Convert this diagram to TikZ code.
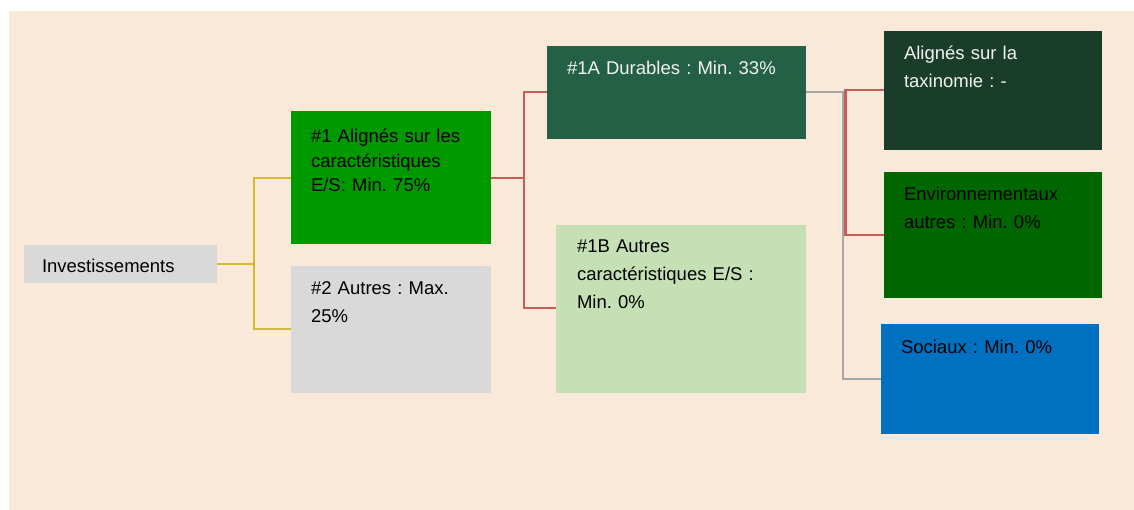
\documentclass[tikz,border=0pt]{standalone}
\usepackage{fontspec}
\setmainfont{Liberation Sans}
\frenchspacing
\definecolor{peach}{HTML}{FAE8D8}
\definecolor{boxgray}{HTML}{D9D9D9}
\definecolor{greenA}{HTML}{009900}
\definecolor{greenDurable}{HTML}{236045}
\definecolor{greenLight}{HTML}{C5E0B4}
\definecolor{greenTaxo}{HTML}{1A3D29}
\definecolor{greenEnv}{HTML}{006600}
\definecolor{blueSoc}{HTML}{0070C0}
\definecolor{lineYellow}{HTML}{D2BB2C}
\definecolor{lineRed}{HTML}{C85A5A}
\definecolor{lineGray}{HTML}{A6A6A6}
\definecolor{textLight}{HTML}{F2F2F2}
\tikzset{
  boxrect/.style={draw=none, inner sep=0pt, outer sep=0pt, anchor=north west},
  boxtext/.style={inner sep=0pt, outer sep=0pt, anchor=base west, text width=200pt, align=left,
    font=\fontsize{18.5}{28}\selectfont\frenchspacing},
  conn/.style={line width=2.2pt},
}
\begin{document}
\begin{tikzpicture}[x=1pt,y=-1pt]
\useasboundingbox (0,0) rectangle (1134,510);
\fill[white] (0,0) rectangle (1134,510);
\fill[peach] (9,11) rectangle (1134,510);

% boxes
\node[boxrect, fill=boxgray, minimum width=193pt, minimum height=38pt] (inv) at (24,245) {};
\node[boxrect, fill=greenA, minimum width=200pt, minimum height=133pt] (n1) at (291,111) {};
\node[boxrect, fill=boxgray, minimum width=200pt, minimum height=127pt] (n2) at (291,266) {};
\node[boxrect, fill=greenDurable, minimum width=259pt, minimum height=93pt] (n1a) at (547,46) {};
\node[boxrect, fill=greenLight, minimum width=250pt, minimum height=168pt] (n1b) at (556,225) {};
\node[boxrect, fill=greenTaxo, minimum width=218pt, minimum height=119pt] (taxo) at (884,31) {};
\node[boxrect, fill=greenEnv, minimum width=218pt, minimum height=126pt] (env) at (884,172) {};
\node[boxrect, fill=blueSoc, minimum width=218pt, minimum height=110pt] (soc) at (881,324) {};

% texts
\node[boxtext] (inv-t) at (42,273) {Investissements};
\node[boxtext, font=\fontsize{18.5}{24.5}\selectfont\frenchspacing] (n1-t) at (311,143) {\#1 Alignés sur les\\caractéristiques\\E/S: Min. 75\%};
\node[boxtext] (n2-t) at (311,295) {\#2 Autres : Max.\\25\%};
\node[boxtext, text=textLight, text width=240pt] (n1a-t) at (567,75) {\#1A Durables : Min. 33\%};
\node[boxtext] (n1b-t) at (577,253) {\#1B Autres\\caractéristiques E/S :\\Min. 0\%};
\node[boxtext, text=textLight] (taxo-t) at (904,59.5) {Alignés sur la\\taxinomie : -};
\node[boxtext] (env-t) at (904,201) {Environnementaux\\autres : Min. 0\%};
\node[boxtext] (soc-t) at (901,353) {Sociaux : Min. 0\%};

% connector junctions
\coordinate (jy) at (254,264);
\coordinate (jr) at (524,177.7);
\coordinate (jg) at (843.3,92.3);
\coordinate (jr2) at (845.5,90.3);

% yellow connectors
\draw[conn, lineYellow] (inv.east |- jy) -- (jy);
\draw[conn, lineYellow] (n1.west |- 0,177.7) -| (jy) |- (n2.west |- 0,329);
% red connectors
\draw[conn, lineRed] (n1.east |- jr) -- (jr);
\draw[conn, lineRed] (n1a.west |- 0,92) -| (jr) |- (n1b.west |- 0,308);
% gray connector
\draw[conn, lineGray] (n1a.east |- jg) -- (jg) |- (soc.west |- 0,379);
% red second-level connectors
\draw[conn, lineRed] (taxo.west |- jr2) -- (jr2) |- (env.west |- 0,235);
\end{tikzpicture}
\end{document}
